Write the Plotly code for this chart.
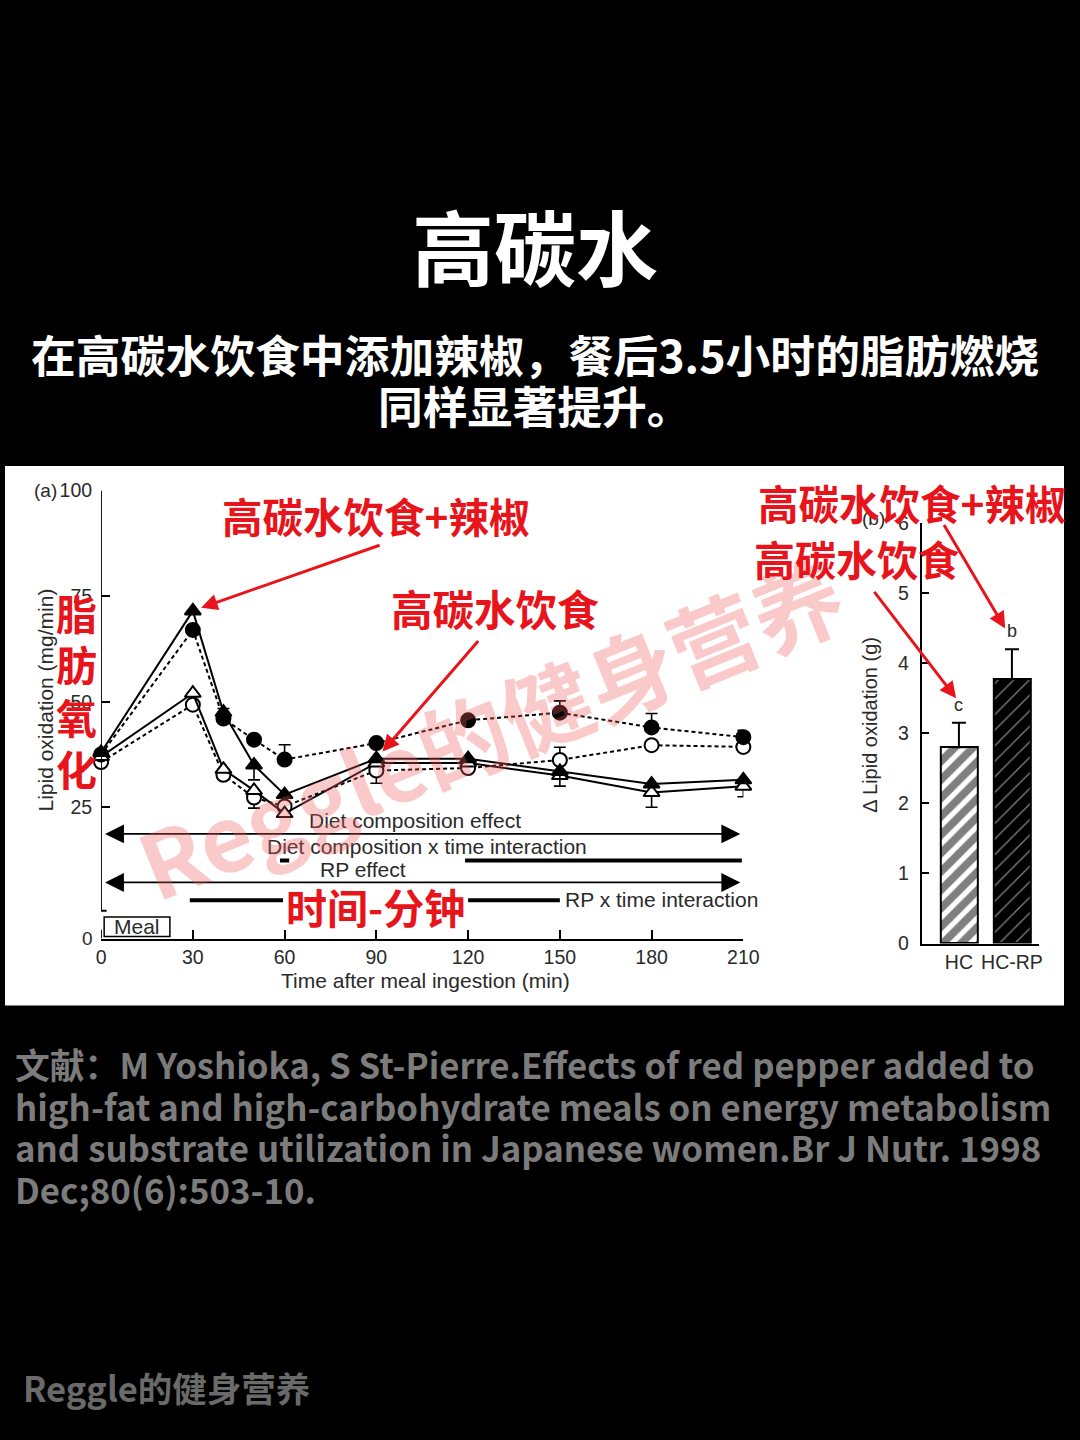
import plotly.graph_objects as go

# ---------------- data ----------------
times = [0, 30, 40, 50, 60, 90, 120, 150, 180, 210]
hc_rp_vals = [38.0, 71.5, 47.5, 35.0, 28.0, 36.5, 36.5, 33.5, 30.5, 31.5]   # filled triangle, solid
hc_vals = [37.0, 52.0, 34.0, 29.0, 23.5, 35.5, 35.5, 32.5, 28.5, 30.0]      # open triangle, solid
hf_rp_vals = [37.5, 67.0, 46.0, 41.0, 36.3, 40.2, 45.6, 47.4, 43.9, 41.6]   # filled circle, dotted
hf_vals = [35.7, 49.3, 32.7, 27.3, 25.2, 33.7, 34.3, 36.2, 39.7, 39.3]      # open circle, dotted

hf_rp_err_up = [0, 0, 2.4, 0, 3.5, 0, 0, 2.8, 3.3, 1.6]
hf_err_up = [0, 0, 0, 0, 0, 0, 0, 3.0, 0, 0]
hf_err_down = [0, 0, 0, 2.5, 0, 3.0, 0, 0, 0, 0]
hc_rp_err_down = [0, 0, 0, 3.5, 0, 0, 0, 3.5, 0, 0]
hc_err_down = [0, 0, 0, 0, 0, 0, 0, 0, 3.5, 2.5]

x_ticks = [0, 30, 60, 90, 120, 150, 180, 210]
y_ticks = [25, 50, 75, 100]

diet_time_sig = [(58.5, 61.5), (119, 209.5)]
rp_time_sig = [(29, 59.5), (120, 150)]

bar_cats = ["HC", "HC-RP"]
bar_vals = [2.8, 3.77]
bar_errs = [0.35, 0.43]
bar_letters = ["c", "b"]
bar_ticks = [0, 1, 2, 3, 4, 5, 6]

# ---------------- helpers ----------------
W, H = 1080, 1440
def px(x):
    return x / W
def py(y):
    return 1 - y / H

RED = "#e8141b"
INK = "#2a2a2a"
EN = "Liberation Sans"
CJK = "Noto Sans CJK SC"

fig = go.Figure()

def add_series(vals, symbol, fill, dash, up, down, name):
    fig.add_trace(go.Scatter(
        x=times, y=vals, mode="lines+markers", name=name,
        line=dict(color="black", width=2, dash=dash),
        marker=dict(symbol=symbol, size=14, color=fill,
                    line=dict(color="black", width=2)),
        error_y=dict(type="data", symmetric=False, array=up, arrayminus=down,
                     color="black", thickness=1.6, width=6),
        cliponaxis=False, xaxis="x", yaxis="y", showlegend=False))

add_series(hf_vals, "circle", "white", "4px,3px", hf_err_up, hf_err_down, "HF")
add_series(hf_rp_vals, "circle", "black", "4px,3px", hf_rp_err_up, [0]*10, "HF-RP")
add_series(hc_vals, "triangle-up", "white", "solid", [0]*10, hc_err_down, "HC")
add_series(hc_rp_vals, "triangle-up", "black", "solid", [0]*10, hc_rp_err_down, "HC-RP")

fig.add_trace(go.Bar(
    x=[bar_cats[0]], y=[bar_vals[0]], width=0.70, xaxis="x2", yaxis="y2",
    marker=dict(color="white", line=dict(color="black", width=2),
                pattern=dict(shape="/", fgcolor="black", bgcolor="white",
                             size=13, solidity=0.6)),
    error_y=dict(type="data", symmetric=False, array=[bar_errs[0]],
                 arrayminus=[0], color="black", thickness=2, width=7),
    showlegend=False))
fig.add_trace(go.Bar(
    x=[bar_cats[1]], y=[bar_vals[1]], width=0.70, xaxis="x2", yaxis="y2",
    marker=dict(color="black", line=dict(color="black", width=2),
                pattern=dict(shape="/", fgcolor="white", bgcolor="black",
                             size=11, solidity=0.12)),
    error_y=dict(type="data", symmetric=False, array=[bar_errs[1]],
                 arrayminus=[0], color="black", thickness=2, width=7),
    showlegend=False))

shapes = []
shapes.append(dict(type="rect", xref="paper", yref="paper", x0=0, x1=1,
                   y0=py(1010), y1=py(462), fillcolor="white",
                   line=dict(width=0), layer="below"))
# broken y axis (left chart)
shapes.append(dict(type="line", xref="x", yref="y", x0=0, x1=0, y0=0.5, y1=100,
                   line=dict(color="black", width=1.8)))
shapes.append(dict(type="line", xref="x", yref="y", x0=0, x1=1.8, y0=0.5, y1=0.5,
                   line=dict(color="black", width=1.8)))
shapes.append(dict(type="line", xref="x", yref="y", x0=0, x1=0, y0=-6.1, y1=-4.0,
                   line=dict(color="black", width=1.8)))
shapes.append(dict(type="rect", xref="x", yref="y", x0=1, x1=22.5, y0=-5.6, y1=-1.0,
                   line=dict(color="black", width=1.5), fillcolor="white"))
for a, b in diet_time_sig:
    shapes.append(dict(type="line", xref="x", yref="y", x0=a, x1=b, y0=12.4, y1=12.4,
                       line=dict(color="black", width=4)))
for a, b in rp_time_sig:
    shapes.append(dict(type="line", xref="x", yref="y", x0=a, x1=b, y0=3.0, y1=3.0,
                       line=dict(color="black", width=4)))

ann = []
def text(x, y, s, size, color=INK, family=EN, weight="normal", xanchor="center",
         angle=0):
    ann.append(dict(xref="paper", yref="paper", x=px(x), y=py(y), text=s,
                    showarrow=False, xanchor=xanchor, yanchor="middle",
                    textangle=angle,
                    font=dict(size=size, color=color, family=family, weight=weight)))

def arrow(hx, hy, tx, ty, color=RED, width=3, size=1.1):
    ann.append(dict(xref="paper", yref="paper", x=px(hx), y=py(hy), text="",
                    showarrow=True, ax=tx - hx, ay=ty - hy, arrowhead=2,
                    arrowsize=size, arrowwidth=width, arrowcolor=color))

text(540, 237, "高碳水", 82, "white", CJK, "bold")
text(540, 348, "在高碳水饮食中添加辣椒，餐后3.5小时的脂肪燃烧", 44.8, "white", CJK, "bold")
text(540, 400, "同样显著提升。", 44.8, "white", CJK, "bold")

text(41, 487, "(a)", 19)
text(84, 942, "0", 19)
text(41, 700, "Lipid oxidation (mg/min)", 21, angle=-90)
text(429, 985, "Time after meal ingestion (min)", 21)
text(418, 822, "Diet composition effect", 21)
text(430, 848, "Diet composition x time interaction", 21)
text(365, 872, "RP effect", 21)
text(670, 902, "RP x time interaction", 21)
text(135, 930, "Meal", 21)

for yv in (18.7, 7.2):
    ann.append(dict(xref="x", yref="y", x=209, y=yv, axref="x", ayref="y",
                    ax=0.8, ay=yv, text="", showarrow=True, arrowside="end+start",
                    arrowhead=2, startarrowhead=2, arrowsize=2.1, startarrowsize=2.1,
                    arrowwidth=1.8, arrowcolor="black"))

text(882, 725, "Δ Lipid oxidation (g)", 20, angle=-90)
text(886, 515, "(b)", 19)
for c, v, e, l in zip(bar_cats, bar_vals, bar_errs, bar_letters):
    ann.append(dict(xref="x2", yref="y2", x=c, y=v + e, text=l, showarrow=False,
                    yanchor="bottom", yshift=6,
                    font=dict(size=18, color=INK, family=EN)))

text(495, 726, "Reggle的健身营养", 90, "rgba(240,95,95,0.33)", CJK, "bold", angle=-22)

text(378, 512, "高碳水饮食+辣椒", 40.5, RED, CJK, "bold")
text(500, 606, "高碳水饮食", 41.5, RED, CJK, "bold")
text(378, 909, "时间-分钟", 41, RED, CJK, "bold")
text(924, 499, "高碳水饮食+辣椒", 40.5, RED, CJK, "bold")
text(868, 555, "高碳水饮食", 41, RED, CJK, "bold")
for ch, yy in zip("脂肪氧化", (610, 662, 716, 769)):
    text(73, yy, ch, 41, RED, CJK, "bold")
arrow(200, 606, 380, 543)
arrow(385, 752, 482, 640)
arrow(1020, 627, 958, 522)
arrow(970, 698, 887, 590)

cite = ["文献：M Yoshioka, S St-Pierre.Effects of red pepper added to",
        "high-fat and high-carbohydrate meals on energy metabolism",
        "and substrate utilization in Japanese women.Br J Nutr. 1998",
        "Dec;80(6):503-10."]
for i, line in enumerate(cite):
    text(8, 1069 + i * 42.5, line, 34.8, "#7c7c7c", CJK, "bold", xanchor="left")
text(16, 1397, "Reggle的健身营养", 34.5, "#6a6a6a", CJK, "bold", xanchor="left")

fig.update_layout(
    width=W, height=H, margin=dict(l=0, r=0, t=0, b=0),
    paper_bgcolor="black", plot_bgcolor="white",
    shapes=shapes, annotations=ann, bargap=0, showlegend=False,
    xaxis=dict(domain=[px(98), px(753)], range=[0, 210], anchor="y",
               tickvals=x_ticks, ticks="inside", ticklen=9, tickwidth=1.8,
               tickcolor="black", showline=True, linecolor="black", linewidth=1.8,
               showgrid=False, zeroline=False,
               tickfont=dict(size=19.5, color=INK, family=EN)),
    yaxis=dict(domain=[py(942), py(487)], range=[-6.1, 100], anchor="x",
               tickvals=y_ticks, ticks="inside", ticklen=9, tickwidth=1.8,
               tickcolor="black", showline=False, showgrid=False, zeroline=False,
               ticklabelstandoff=8,
               tickfont=dict(size=19.5, color=INK, family=EN)),
    xaxis2=dict(domain=[px(935), px(1055)], range=[-0.70, 1.52], anchor="y2",
                type="category", categoryarray=bar_cats, ticks="",
                showline=True, linecolor="black", linewidth=2, showgrid=False,
                tickfont=dict(size=19.5, color=INK, family=EN)),
    yaxis2=dict(domain=[py(947), py(520)], range=[0, 6], anchor="x2",
                tickvals=bar_ticks, ticks="inside", ticklen=7, tickwidth=1.8,
                tickcolor="black", showline=True, linecolor="black", linewidth=2,
                showgrid=False, zeroline=False, ticklabelstandoff=7,
                tickfont=dict(size=19.5, color=INK, family=EN)),
)

fig.write_html("out.html", config={"displayModeBar": False},
               post_script="document.body.style.margin='0';"
               "document.documentElement.style.overflow='hidden';"
               "document.body.style.overflow='hidden';")
